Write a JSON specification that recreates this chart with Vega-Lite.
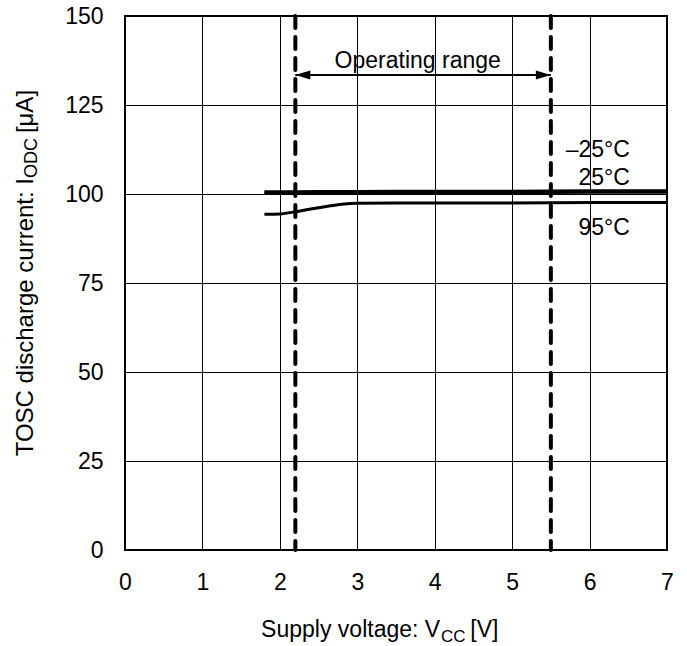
{
  "$schema": "https://vega.github.io/schema/vega-lite/v6.json",
  "width": 542,
  "height": 534,
  "autosize": {"type": "none"},
  "padding": {"left": 125, "top": 16, "right": 20, "bottom": 96},
  "background": "white",
  "config": {
    "view": {"stroke": "#000", "strokeWidth": 2},
    "font": "Liberation Sans",
    "axisX": {
      "grid": true, "gridColor": "#000", "gridWidth": 1, "gridOpacity": 1,
      "domain": false, "ticks": false, "tickSize": 0,
      "labelPadding": 21, "labelFontSize": 23, "labelFont": "Liberation Sans",
      "labelColor": "#000", "labelFlush": false, "labelAngle": 0
    },
    "axisY": {
      "grid": true, "gridColor": "#000", "gridWidth": 1, "gridOpacity": 1,
      "domain": false, "ticks": false, "tickSize": 0,
      "labelPadding": 22, "labelFontSize": 23, "labelFont": "Liberation Sans",
      "labelColor": "#000", "labelFlush": false
    }
  },
  "datasets": {
    "curves": [
      {"x": 1.8, "y": 100.6, "series": "-25C"},
      {"x": 2.0, "y": 100.6, "series": "-25C"},
      {"x": 2.5, "y": 100.7, "series": "-25C"},
      {"x": 3.0, "y": 100.7, "series": "-25C"},
      {"x": 4.0, "y": 100.8, "series": "-25C"},
      {"x": 5.0, "y": 100.8, "series": "-25C"},
      {"x": 6.0, "y": 100.9, "series": "-25C"},
      {"x": 7.0, "y": 100.9, "series": "-25C"},
      {"x": 1.8, "y": 100.2, "series": "25C"},
      {"x": 2.0, "y": 100.2, "series": "25C"},
      {"x": 2.5, "y": 100.3, "series": "25C"},
      {"x": 3.0, "y": 100.3, "series": "25C"},
      {"x": 4.0, "y": 100.4, "series": "25C"},
      {"x": 5.0, "y": 100.4, "series": "25C"},
      {"x": 6.0, "y": 100.5, "series": "25C"},
      {"x": 7.0, "y": 100.5, "series": "25C"},
      {"x": 1.8, "y": 94.3, "series": "95C"},
      {"x": 2.0, "y": 94.4, "series": "95C"},
      {"x": 2.2, "y": 95.0, "series": "95C"},
      {"x": 2.4, "y": 95.8, "series": "95C"},
      {"x": 2.6, "y": 96.5, "series": "95C"},
      {"x": 2.8, "y": 97.1, "series": "95C"},
      {"x": 3.0, "y": 97.4, "series": "95C"},
      {"x": 3.5, "y": 97.5, "series": "95C"},
      {"x": 4.0, "y": 97.5, "series": "95C"},
      {"x": 5.0, "y": 97.5, "series": "95C"},
      {"x": 6.0, "y": 97.6, "series": "95C"},
      {"x": 7.0, "y": 97.6, "series": "95C"}
    ],
    "limits": [{"x": 2.2}, {"x": 5.5}],
    "shaft": [{"x": 2.2, "x2": 5.5, "y": 133.4}],
    "heads": [
      {"x": 2.2, "y": 133.4, "dir": "left"},
      {"x": 5.5, "y": 133.4, "dir": "right"}
    ],
    "rangeLabel": [{"x": 3.78, "y": 135.4, "text": "Operating range"}],
    "tempLabels": [
      {"x": 6.52, "y": 110.4, "text": "–25°C"},
      {"x": 6.52, "y": 102.5, "text": "25°C"},
      {"x": 6.52, "y": 88.5, "text": "95°C"}
    ],
    "xTitleMain": [{"x": 4.07, "y": -24.4, "text": "Supply voltage: V"}],
    "xTitleSub": [{"x": 4.08, "y": -25.8, "text": "CC"}],
    "xTitleEnd": [{"x": 4.46, "y": -24.4, "text": "[V]"}],
    "yTitleMain": [{"x": -1.188, "y": 104.5, "text": "TOSC discharge current: I"}],
    "yTitleSub": [{"x": -1.136, "y": 104.5, "text": "ODC"}],
    "yTitleEnd": [{"x": -1.188, "y": 117.1, "text": "[μA]"}]
  },
  "layer": [
    {
      "data": {"name": "curves"},
      "mark": {"type": "line", "color": "#000", "strokeWidth": 3, "interpolate": "monotone"},
      "encoding": {
        "x": {"field": "x", "type": "quantitative", "title": null,
          "scale": {"domain": [0, 7], "nice": false, "zero": false},
          "axis": {"values": [0, 1, 2, 3, 4, 5, 6, 7], "format": "d"}},
        "y": {"field": "y", "type": "quantitative", "title": null,
          "scale": {"domain": [0, 150], "nice": false, "zero": false},
          "axis": {"values": [0, 25, 50, 75, 100, 125, 150], "format": "d"}},
        "detail": {"field": "series", "type": "nominal"}
      }
    },
    {
      "data": {"name": "limits"},
      "mark": {"type": "rule", "color": "#000", "strokeWidth": 4, "strokeDash": [12, 9], "strokeCap": "round"},
      "encoding": {
        "x": {"field": "x", "type": "quantitative", "title": null}
      }
    },
    {
      "data": {"name": "shaft"},
      "mark": {"type": "rule", "color": "#000", "strokeWidth": 2},
      "encoding": {
        "x": {"field": "x", "type": "quantitative", "title": null},
        "x2": {"field": "x2"},
        "y": {"field": "y", "type": "quantitative", "title": null}
      }
    },
    {
      "data": {"name": "heads"},
      "mark": {"type": "point", "filled": true, "color": "#000", "opacity": 1, "size": 225, "strokeWidth": 0},
      "encoding": {
        "x": {"field": "x", "type": "quantitative", "title": null},
        "y": {"field": "y", "type": "quantitative", "title": null},
        "shape": {"field": "dir", "type": "nominal", "legend": null,
          "scale": {"domain": ["left", "right"], "range": ["M0,0L2,-0.6L2,0.6Z", "M0,0L-2,-0.6L-2,0.6Z"]}}
      }
    },
    {
      "data": {"name": "rangeLabel"},
      "mark": {"type": "text", "color": "#000", "fontSize": 23, "align": "center", "baseline": "alphabetic", "font": "Liberation Sans"},
      "encoding": {
        "x": {"field": "x", "type": "quantitative", "title": null},
        "y": {"field": "y", "type": "quantitative", "title": null},
        "text": {"field": "text"}
      }
    },
    {
      "data": {"name": "tempLabels"},
      "mark": {"type": "text", "color": "#000", "fontSize": 23, "align": "right", "baseline": "alphabetic", "font": "Liberation Sans"},
      "encoding": {
        "x": {"field": "x", "type": "quantitative", "title": null},
        "y": {"field": "y", "type": "quantitative", "title": null},
        "text": {"field": "text"}
      }
    },
    {
      "data": {"name": "xTitleMain"},
      "mark": {"type": "text", "color": "#000", "fontSize": 23, "align": "right", "baseline": "alphabetic", "font": "Liberation Sans"},
      "encoding": {
        "x": {"field": "x", "type": "quantitative", "title": null},
        "y": {"field": "y", "type": "quantitative", "title": null},
        "text": {"field": "text"}
      }
    },
    {
      "data": {"name": "xTitleSub"},
      "mark": {"type": "text", "color": "#000", "fontSize": 17, "align": "left", "baseline": "alphabetic", "font": "Liberation Sans"},
      "encoding": {
        "x": {"field": "x", "type": "quantitative", "title": null},
        "y": {"field": "y", "type": "quantitative", "title": null},
        "text": {"field": "text"}
      }
    },
    {
      "data": {"name": "xTitleEnd"},
      "mark": {"type": "text", "color": "#000", "fontSize": 23, "align": "left", "baseline": "alphabetic", "font": "Liberation Sans"},
      "encoding": {
        "x": {"field": "x", "type": "quantitative", "title": null},
        "y": {"field": "y", "type": "quantitative", "title": null},
        "text": {"field": "text"}
      }
    },
    {
      "data": {"name": "yTitleMain"},
      "mark": {"type": "text", "color": "#000", "fontSize": 24, "align": "right", "baseline": "alphabetic", "angle": 270, "font": "Liberation Sans"},
      "encoding": {
        "x": {"field": "x", "type": "quantitative", "title": null},
        "y": {"field": "y", "type": "quantitative", "title": null},
        "text": {"field": "text"}
      }
    },
    {
      "data": {"name": "yTitleSub"},
      "mark": {"type": "text", "color": "#000", "fontSize": 18, "align": "left", "baseline": "alphabetic", "angle": 270, "font": "Liberation Sans"},
      "encoding": {
        "x": {"field": "x", "type": "quantitative", "title": null},
        "y": {"field": "y", "type": "quantitative", "title": null},
        "text": {"field": "text"}
      }
    },
    {
      "data": {"name": "yTitleEnd"},
      "mark": {"type": "text", "color": "#000", "fontSize": 24, "align": "left", "baseline": "alphabetic", "angle": 270, "font": "Liberation Sans"},
      "encoding": {
        "x": {"field": "x", "type": "quantitative", "title": null},
        "y": {"field": "y", "type": "quantitative", "title": null},
        "text": {"field": "text"}
      }
    }
  ]
}
